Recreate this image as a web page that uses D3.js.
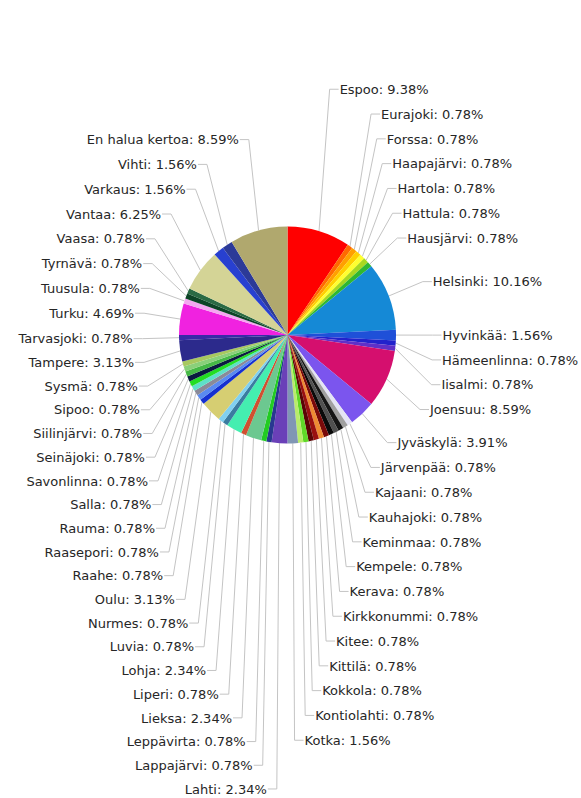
<!DOCTYPE html>
<html><head><meta charset="utf-8">
<script src="https://cdn.jsdelivr.net/npm/d3@7"></script>
<style>html,body{margin:0;padding:0;background:#fff;} svg{display:block}</style>
</head><body>
<svg id="chart" width="581" height="798"></svg>
<script>
const categories = ["Espoo","Eurajoki","Forssa","Haapajärvi","Hartola","Hattula","Hausjärvi","Helsinki","Hyvinkää","Hämeenlinna","Iisalmi","Joensuu","Jyväskylä","Järvenpää","Kajaani","Kauhajoki","Keminmaa","Kempele","Kerava","Kirkkonummi","Kitee","Kittilä","Kokkola","Kontiolahti","Kotka","Lahti","Lappajärvi","Leppävirta","Lieksa","Liperi","Lohja","Luvia","Nurmes","Oulu","Raahe","Raasepori","Rauma","Salla","Savonlinna","Seinäjoki","Siilinjärvi","Sipoo","Sysmä","Tampere","Tarvasjoki","Turku","Tuusula","Tyrnävä","Vaasa","Vantaa","Varkaus","Vihti","En halua kertoa"];
const percents = [9.38,0.78,0.78,0.78,0.78,0.78,0.78,10.16,1.56,0.78,0.78,8.59,3.91,0.78,0.78,0.78,0.78,0.78,0.78,0.78,0.78,0.78,0.78,0.78,1.56,2.34,0.78,0.78,2.34,0.78,2.34,0.78,0.78,3.13,0.78,0.78,0.78,0.78,0.78,0.78,0.78,0.78,0.78,3.13,0.78,4.69,0.78,0.78,0.78,6.25,1.56,1.56,8.59];
const colors = ["#ff0000","#ff6a00","#ffa000","#ffd000","#ffff30","#a8d820","#30b830","#1589d6","#1f50d8","#2222cc","#6030c8","#d50f6e","#7b55ee","#e4e4f4","#a0a0a0","#151515","#505050","#0a0a0a","#7a0a0a","#ee8a33","#9a1010","#5a0505","#60d828","#b8ec6a","#8096b4","#6a40b8","#283890","#22cc22","#6cc890","#d05030","#44eeb0","#3a7ca0","#80d0f0","#d6ce72","#1530d0","#5a8af0","#8a8a98","#5ee0c8","#22dd22","#0a1a40","#46b846","#8ad07a","#a8c860","#2c2a8c","#3a2aa8","#f022e0","#f4a8f0","#0c4426","#2a6a44","#d4d496","#2840d0","#2c3a98","#b0a86e"];

const svg = d3.select("#chart");
const cx = 287.5, cy = 335, r = 108.5;
const Ry = r + 40;      // radius used for a label's natural height
const Rx = r + 36.5;    // radius used for the guide-line bend
const step = 24.8, topLim = 17, botLim = 789;

const data = categories.map((c, i) => ({name: c, value: percents[i], color: colors[i]}));
const arcs = d3.pie().sort(null).value(d => d.value)(data);
const arc = d3.arc().innerRadius(0).outerRadius(r);

const linesG = svg.append("g");
svg.append("g").attr("transform", `translate(${cx},${cy})`)
  .selectAll("path").data(arcs).join("path")
  .attr("d", arc).attr("fill", d => d.data.color);

const items = arcs.map(d => {
  const a = (d.startAngle + d.endAngle) / 2;
  return {d, a, side: Math.sin(a) >= 0 ? 1 : -1, lower: Math.cos(a) < 1e-6, ny: cy - Ry * Math.cos(a)};
});

function stack(list, dir) {
  list.sort((p, q) => Math.abs(Math.cos(p.a)) - Math.abs(Math.cos(q.a)));
  const place = s => {
    let prev = null;
    list.forEach(it => {
      let y = it.ny;
      if (prev !== null) y = dir > 0 ? Math.max(y, prev + s) : Math.min(y, prev - s);
      it.y = y; prev = y;
    });
  };
  let s = step;
  place(s);
  const over = () => list.length && (dir > 0 ? list[list.length - 1].y > botLim : list[list.length - 1].y < topLim);
  while (over() && s > 14) { s -= 0.05; place(s); }
}
[1, -1].forEach(side => {
  stack(items.filter(it => it.side === side && it.lower), 1);
  stack(items.filter(it => it.side === side && !it.lower), -1);
});

items.forEach(it => {
  const ex = cx + r * Math.sin(it.a), ey = cy - r * Math.cos(it.a);
  const bx = cx + Rx * Math.sin(it.a);
  const hx = bx + it.side * 9;
  linesG.append("path")
    .attr("d", d3.line()([[ex, ey], [bx, it.y], [hx, it.y]]))
    .attr("fill", "none").attr("stroke", "#c4c4c4").attr("stroke-width", 1);
  svg.append("text")
    .attr("x", it.side > 0 ? hx + 1 : hx - 1)
    .attr("y", it.y).attr("dy", "0.36em")
    .attr("text-anchor", it.side > 0 ? "start" : "end")
    .attr("font-family", "DejaVu Sans, sans-serif").attr("font-size", 13)
    .attr("fill", "#262626")
    .text(`${it.d.data.name}: ${it.d.data.value.toFixed(2)}%`);
});
</script>
</body></html>
